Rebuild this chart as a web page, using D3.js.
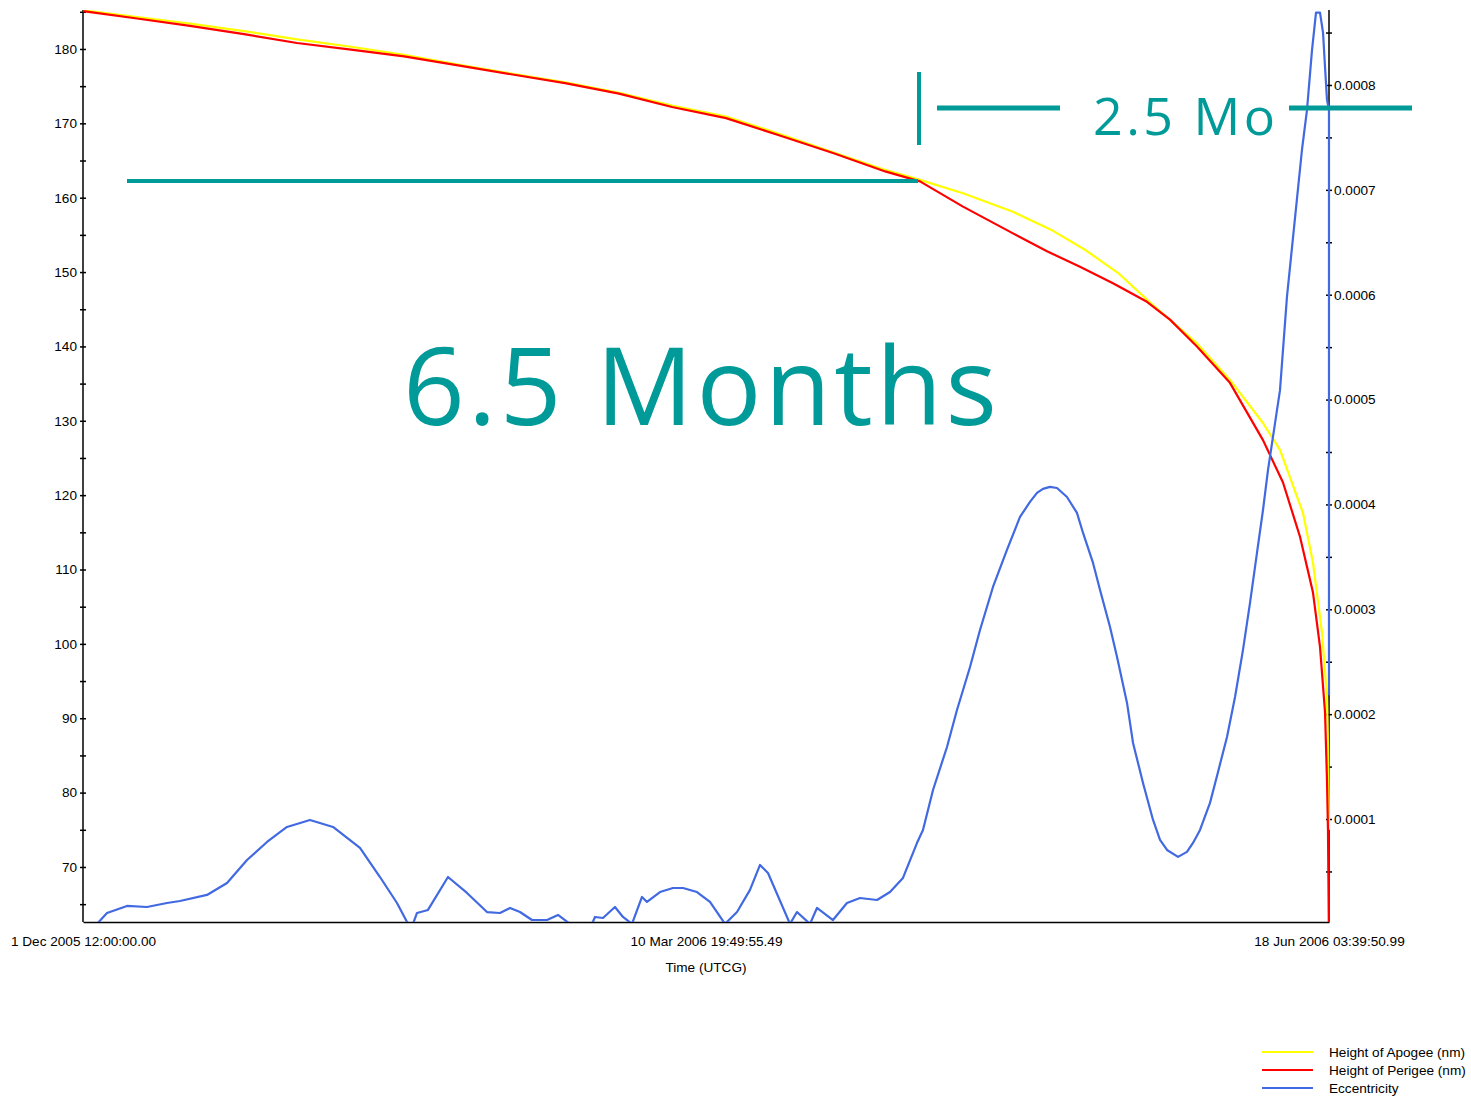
<!DOCTYPE html>
<meta charset="utf-8">
<script src="https://cdn.jsdelivr.net/npm/d3@7/dist/d3.min.js"></script>
<style>
  body { margin: 0; background: #fff; }
  text { font-family: "Liberation Sans", Arial, sans-serif; }
</style>
<div id="my_dataviz"></div>
<script>

// days since 1 Dec 2005 12:00 UTCG
var perigeeDays = [0, 8.61, 17.06, 25.67, 34.12, 42.73, 51.18, 59.79, 68.24, 76.85, 85.45, 93.90,
  102.51, 110.96, 119.57, 128.02, 133.44, 140.30, 148.27, 153.69, 158.95, 164.21, 169.63, 173.30,
  177.60, 182.86, 188.13, 191.32, 194.03, 196.10, 197.22, 198.02, 198.33, 198.49, 198.65];
var perigee = [185.1, 184.1, 183.1, 182.0, 180.8, 179.9, 179.0, 177.8, 176.6, 175.4, 174.0, 172.2,
  170.7, 168.4, 166.0, 163.5, 162.2, 158.8, 155.2, 152.8, 150.7, 148.5, 146.0, 143.6,
  140.0, 135.1, 127.4, 121.7, 114.4, 106.9, 99.6, 90.8, 81.7, 75.0, 60.0];

var apogeeDays = [0, 8.61, 17.06, 25.67, 34.12, 42.73, 51.18, 59.79, 68.24, 76.85, 85.45, 93.90,
  102.51, 110.96, 119.57, 128.02, 133.44, 140.30, 148.27, 154.33, 159.74, 165.00, 170.26, 177.60,
  182.86, 188.13, 190.84, 193.55, 194.51, 196.10, 197.54, 198.33, 198.49, 198.65];
var apogee = [185.2, 184.3, 183.4, 182.4, 181.3, 180.3, 179.2, 177.9, 176.7, 175.5, 174.1, 172.4,
  170.9, 168.6, 166.1, 163.7, 162.4, 160.6, 158.1, 155.7, 153.0, 149.9, 145.8, 140.4,
  135.5, 129.7, 126.1, 119.8, 117.6, 110.9, 101.5, 92.9, 86.2, 75.0];

var eccDays = [0, 2.23, 3.83, 7.01, 10.20, 13.39, 15.46, 19.77, 22.96, 26.15, 29.34, 32.52, 36.19,
  39.86, 44.16, 47.35, 50.06, 51.82, 52.61, 53.25, 55.00, 58.19, 61.22, 64.41, 66.48, 68.08, 69.67,
  71.58, 73.98, 75.73, 77.64, 81.15, 81.63, 82.90, 84.81, 86.09, 87.53, 89.12, 89.92, 91.99, 94.06,
  95.66, 97.89, 99.96, 102.36, 104.27, 106.34, 107.94, 109.21, 112.72, 113.83, 115.91, 117.02,
  119.57, 121.80, 123.88, 126.59, 128.66, 130.73, 132.96, 133.92, 135.52, 137.75, 139.34, 141.42,
  143.01, 145.08, 147.31, 149.39, 150.98, 152.10, 153.05, 154.17, 155.29, 156.88, 158.47, 159.44,
  161.03, 162.15, 163.74, 164.86, 166.45, 167.41, 169.00, 170.60, 171.71, 172.83, 174.58, 176.01,
  176.97, 178.09, 179.68, 180.96, 182.39, 183.67, 184.94, 186.06, 187.17, 188.13, 188.93, 190.84,
  191.95, 194.34, 195.14, 195.94, 196.58, 197.22, 197.70, 198.02, 198.33, 198.65, 198.65];
// eccentricity in units of 1e-4
var ecc = [0, 0, 0.104, 0.171, 0.161, 0.199, 0.218, 0.276, 0.39, 0.609, 0.781, 0.924, 0.991,
  0.924, 0.724, 0.447, 0.199, 0, 0, 0.104, 0.133, 0.447, 0.295, 0.113, 0.104, 0.152, 0.113,
  0.037, 0.037, 0.085, 0, 0, 0.066, 0.056, 0.161, 0.066, 0, 0.257, 0.209, 0.304, 0.342,
  0.342, 0.304, 0.209, 0, 0.113, 0.324, 0.562, 0.485, 0, 0.113, 0, 0.152,
  0.037, 0.199, 0.247, 0.228, 0.304, 0.438, 0.771, 0.895, 1.277, 1.687, 2.040, 2.450,
  2.803, 3.213, 3.566, 3.881, 4.024, 4.110, 4.148, 4.167, 4.157, 4.071, 3.919, 3.728,
  3.442, 3.184, 2.832, 2.546, 2.107, 1.725, 1.344, 0.991, 0.801, 0.705, 0.639, 0.687,
  0.772, 0.896, 1.154, 1.449, 1.783, 2.164, 2.613, 3.061, 3.538, 3.947, 4.330, 5.09,
  5.98, 7.38, 7.76, 8.33, 8.69, 8.69, 8.50, 8.17, 7.86, 7.76, 2.18];

var leftTicks = [70, 80, 90, 100, 110, 120, 130, 140, 150, 160, 170, 180];
var rightTicks = [0.0001, 0.0002, 0.0003, 0.0004, 0.0005, 0.0006, 0.0007, 0.0008];
var xTickDays = [0, 99.326337, 198.652674];
var xTickLabels = ["1 Dec 2005 12:00:00.00", "10 Mar 2006 19:49:55.49", "18 Jun 2006 03:39:50.99"];
var seriesNames = ["Height of Apogee (nm)", "Height of Perigee (nm)", "Eccentricity"];
var seriesColors = ["#ffff00", "#ff0000", "#4169e1"];

var start = Date.UTC(2005, 11, 1, 12, 0, 0);
function toDate(d) { return new Date(start + d * 864e5); }

var W = 1471, H = 1098;
var pL = 83, pR = 1329, pT = 10, pB = 922;
var fs = 13.6;

var svg = d3.select("#my_dataviz").append("svg")
  .attr("width", W).attr("height", H);

var x = d3.scaleUtc()
  .domain([toDate(0), toDate(198.652674)])
  .range([pL, pR]);
var yL = d3.scaleLinear().domain([62.6, 185.24]).range([pB, pT]);
var yR = d3.scaleLinear().domain([0.0000018, 0.0008715]).range([pB, pT]);

svg.append("clipPath").attr("id", "plot")
  .append("rect").attr("x", pL - 2).attr("y", pT).attr("width", pR - pL + 4).attr("height", pB - pT);

// left axis, minor ticks every 5
var gL = svg.append("g").attr("transform", "translate(" + pL + ",0)");
gL.call(d3.axisLeft(yL).tickValues(d3.range(65, 186, 5)).tickSize(0)
  .tickFormat(function(d) { return leftTicks.indexOf(d) >= 0 ? d : ""; }));
gL.select(".domain").attr("stroke", "#000").attr("stroke-width", 1.5).attr("d", "M0," + pT + "V" + pB);
gL.selectAll(".tick line").attr("x1", -3).attr("x2", 3).attr("stroke", "#000").attr("stroke-width", 1.5);
gL.selectAll(".tick text").attr("x", -6).attr("font-size", fs).attr("fill", "#000")
  .style("font-family", "'Liberation Sans', Arial, sans-serif");

// right axis, minor ticks every 0.00005
var gR = svg.append("g").attr("transform", "translate(" + pR + ",0)");
gR.call(d3.axisRight(yR).tickValues(d3.range(1, 18).map(function(i) { return i * 0.00005; })).tickSize(0)
  .tickFormat(function(d) {
    var lab = rightTicks.filter(function(t) { return Math.abs(t - d) < 1e-9; });
    return lab.length ? d3.format(".4f")(lab[0]) : "";
  }));
gR.select(".domain").attr("stroke", "#000").attr("stroke-width", 1.5).attr("d", "M0," + pT + "V" + pB);
gR.selectAll(".tick line").attr("x1", -3).attr("x2", 3).attr("stroke", "#000").attr("stroke-width", 1.5);
gR.selectAll(".tick text").attr("x", 5).attr("font-size", fs).attr("fill", "#000")
  .style("font-family", "'Liberation Sans', Arial, sans-serif");

// bottom axis
var gB = svg.append("g").attr("transform", "translate(0," + pB + ")");
gB.call(d3.axisBottom(x).tickValues(xTickDays.map(toDate)).tickSize(0)
  .tickFormat(function(d, i) { return xTickLabels[i]; }));
gB.select(".domain").attr("stroke", "#000").attr("stroke-width", 1.5);
gB.selectAll(".tick text").attr("y", 14).attr("font-size", fs).attr("fill", "#000")
  .style("font-family", "'Liberation Sans', Arial, sans-serif");

svg.append("text").attr("x", 706).attr("y", 972).attr("text-anchor", "middle")
  .attr("font-size", fs).text("Time (UTCG)");

// the three series
var plot = svg.append("g").attr("clip-path", "url(#plot)");
function draw(days, vals, yScale, color) {
  plot.append("path")
    .datum(days.map(function(d, i) { return [toDate(d), vals[i]]; }))
    .attr("fill", "none").attr("stroke", color).attr("stroke-width", 2.2)
    .attr("stroke-linejoin", "round")
    .attr("d", d3.line().x(function(d) { return x(d[0]); }).y(function(d) { return yScale(d[1]); }));
}
draw(apogeeDays, apogee, yL, seriesColors[0]);
draw(perigeeDays, perigee, yL, seriesColors[1]);
draw(eccDays, ecc.map(function(v) { return v * 1e-4; }), yR, seriesColors[2]);

// annotations
var teal = "#009a98";
svg.append("line").attr("x1", 127).attr("x2", 918).attr("y1", 181).attr("y2", 181)
  .attr("stroke", teal).attr("stroke-width", 4);
svg.append("line").attr("x1", 919).attr("x2", 919).attr("y1", 72).attr("y2", 145)
  .attr("stroke", teal).attr("stroke-width", 4);
svg.append("line").attr("x1", 937).attr("x2", 1060).attr("y1", 108).attr("y2", 108)
  .attr("stroke", teal).attr("stroke-width", 5);
svg.append("line").attr("x1", 1289).attr("x2", 1412).attr("y1", 108).attr("y2", 108)
  .attr("stroke", teal).attr("stroke-width", 5);
svg.append("text").attr("x", 403).attr("y", 425).attr("fill", teal)
  .attr("font-size", 108).style("font-family", "'Open Sans', sans-serif")
  .attr("textLength", 594).attr("lengthAdjust", "spacing").text("6.5 Months");
svg.append("text").attr("x", 1093).attr("y", 135).attr("fill", teal)
  .attr("font-size", 52).style("font-family", "'Open Sans', sans-serif")
  .attr("textLength", 182).attr("lengthAdjust", "spacing").text("2.5 Mo");

// legend
var lg = svg.append("g");
seriesNames.forEach(function(n, i) {
  var yy = 1052 + i * 18;
  lg.append("line").attr("x1", 1262).attr("x2", 1313).attr("y1", yy).attr("y2", yy)
    .attr("stroke", seriesColors[i]).attr("stroke-width", 2);
  lg.append("text").attr("x", 1329).attr("y", yy + 5).attr("font-size", fs).text(n);
});

</script>
